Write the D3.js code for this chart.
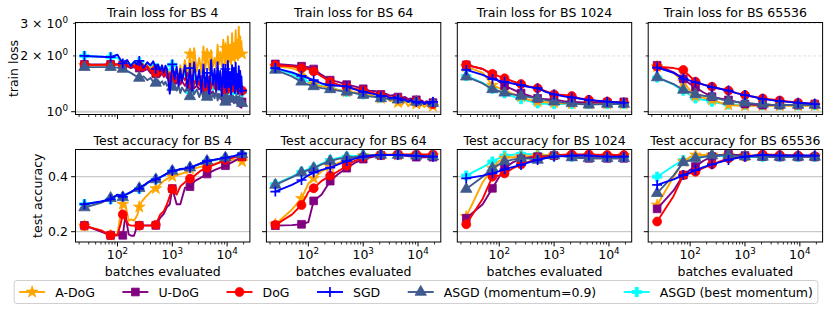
<!DOCTYPE html>
<html><head><meta charset="utf-8">
<script src="https://cdn.jsdelivr.net/npm/d3@7"></script>
<style>body{margin:0;background:#fff} text{font-family:"DejaVu Sans",sans-serif;fill:#000}</style>
</head><body><svg id="c" width="830" height="310"></svg>
<script>
// ---------------- DATA ----------------
const batchSizes = ["4", "64", "1024", "65536"];
const methods = ["A-DoG", "U-DoG", "DoG", "SGD", "ASGD (momentum=0.9)", "ASGD (best momentum)"];
const markerX = [25, 75, 125, 250, 500, 1000, 2100, 4300, 9300, 18700];
const xTicksMajor = [100, 1000, 10000];
const yTicksLoss = [1, 2, 3];
const yTickLossLabels = [["10", "0"], ["2 × 10", "0"], ["3 × 10", "0"]];
const yTicksAcc = [0.2, 0.4];
const yTickAccLabels = ["0.2", "0.4"];

const xTrain4 = [25, 50, 75, 100, 125, 150, 175, 200, 225, 250,
  300, 350, 400, 450, 500, 550, 600, 650, 700, 750,
  800, 900, 1000, 1100, 1200, 1300, 1400, 1500, 1700, 1900,
  2100, 2300, 2500, 2800, 3100, 3400, 3700, 4000, 4300, 4700,
  5100, 5500, 5900, 6300, 6700, 7100, 7500, 8000, 8500, 9000,
  9300, 9800, 10300, 10800, 11300, 11800, 12300, 12800, 13300, 13800,
  14300, 14800, 15300, 15800, 16300, 16800, 17300, 17800, 18200, 18700];
// rows: A-DoG, U-DoG, DoG, SGD, ASGD(0.9), ASGD(best)
const trainLossBS4 = [
  [1.78,1.78,1.78,1.80,1.76,1.78,1.74,1.80,1.75,1.76, 1.70,1.78,1.70,1.76,1.66,1.74,1.64,1.72,1.60,1.70,
   1.62,1.50,1.62,1.50,1.70,1.48,1.78,1.55,1.90,1.55, 2.05,1.60,2.20,1.65,1.95,1.62,2.25,1.70,2.05,1.68,
   2.15,1.75,1.95,1.72,2.30,1.80,2.10,1.75,2.45,1.80, 2.20,1.78,2.55,1.85,2.30,1.80,2.65,1.90,2.35,1.85,
   2.75,1.95,2.45,1.90,2.88,2.05,2.55,2.00,2.40,2.05],
  [1.80,1.80,1.80,1.80,1.79,1.76,1.72,1.74,1.70,1.72, 1.66,1.70,1.62,1.68,1.60,1.64,1.56,1.62,1.54,1.60,
   1.52,1.56,1.48,1.55,1.42,1.50,1.40,1.46,1.38,1.44, 1.36,1.42,1.34,1.38,1.32,1.36,1.30,1.34,1.28,1.30,
   1.26,1.28,1.24,1.26,1.22,1.24,1.20,1.22,1.18,1.20, 1.16,1.22,1.15,1.18,1.14,1.20,1.13,1.16,1.12,1.18,
   1.12,1.15,1.10,1.16,1.08,1.14,1.06,1.10,1.05,1.13],
  [1.79,1.79,1.79,1.80,1.78,1.80,1.74,1.78,1.72,1.76, 1.68,1.76,1.66,1.74,1.62,1.72,1.60,1.70,1.56,1.68,
   1.55,1.62,1.50,1.64,1.46,1.60,1.42,1.58,1.48,1.62, 1.42,1.58,1.40,1.55,1.38,1.56,1.36,1.52,1.35,1.55,
   1.34,1.50,1.33,1.52,1.32,1.48,1.31,1.50,1.30,1.46, 1.30,1.48,1.29,1.45,1.30,1.46,1.28,1.44,1.29,1.42,
   1.28,1.44,1.29,1.40,1.28,1.42,1.27,1.38,1.28,1.30],
  [2.00,1.98,1.97,2.03,1.82,1.90,1.76,1.86,1.80,1.88, 1.72,1.85,1.78,1.87,1.70,1.80,1.66,1.78,1.62,1.77,
   1.70,1.25,1.80,1.50,1.75,1.38,1.70,1.45,1.78,1.35, 1.72,1.30,1.85,1.40,1.68,1.28,1.80,1.35,1.62,1.25,
   1.90,1.40,1.70,1.30,1.85,1.32,1.66,1.22,1.80,1.35, 1.70,1.28,1.88,1.36,1.64,1.24,1.78,1.40,1.72,1.26,
   1.84,1.33,1.60,1.25,1.76,1.36,1.66,1.28,1.55,1.30],
  [1.74,1.74,1.74,1.73,1.70,1.66,1.62,1.58,1.55,1.52, 1.55,1.48,1.52,1.45,1.43,1.48,1.42,1.46,1.40,1.45,
   1.38,1.42,1.36,1.40,1.30,1.38,1.26,1.35,1.28,1.36, 1.21,1.34,1.24,1.32,1.20,1.30,1.18,1.28,1.20,1.30,
   1.16,1.26,1.18,1.30,1.15,1.25,1.17,1.28,1.14,1.24, 1.13,1.26,1.15,1.22,1.12,1.25,1.14,1.22,1.11,1.20,
   1.13,1.24,1.10,1.20,1.12,1.22,1.10,1.18,1.12,1.11],
  [2.00,1.98,1.97,1.95,1.80,1.85,1.80,1.84,1.82,1.85, 1.76,1.82,1.74,1.80,1.72,1.78,1.68,1.76,1.66,1.74,
   1.64,1.70,1.79,1.62,1.70,1.55,1.66,1.50,1.62,1.45, 1.28,1.42,1.58,1.38,1.55,1.36,1.52,1.34,1.45,1.32,
   1.50,1.30,1.48,1.28,1.46,1.30,1.44,1.27,1.45,1.26, 1.42,1.26,1.44,1.25,1.40,1.26,1.42,1.24,1.40,1.25,
   1.38,1.24,1.40,1.25,1.36,1.24,1.38,1.26,1.34,1.28]
];

const xTrain64 = [25, 50, 75, 100, 125, 175, 250, 350, 500, 700, 1000, 1300, 1700, 2100, 2600, 3100,
  3700, 4300, 5000, 5800, 6600, 7500, 8400, 9300, 10500, 11700, 13000, 14500, 16000, 17300, 18700];
const trainLossBS64 = [
  [1.76,1.72,1.65,1.52,1.40,1.37,1.35,1.31,1.28,1.27, 1.25,1.24,1.20,1.18,1.20,1.14,1.16,1.12,1.08,1.14, 1.07,1.12,1.06,1.10,1.05,1.10,1.06,1.09,1.05,1.08, 1.07],
  [1.81,1.78,1.76,1.74,1.70,1.58,1.48,1.45,1.40,1.37, 1.33,1.30,1.29,1.24,1.25,1.22,1.23,1.20,1.19,1.20, 1.17,1.18,1.15,1.16,1.14,1.15,1.12,1.14,1.11,1.13, 1.12],
  [1.78,1.76,1.72,1.70,1.65,1.55,1.45,1.40,1.36,1.33, 1.30,1.28,1.25,1.22,1.23,1.19,1.20,1.18,1.16,1.18, 1.14,1.16,1.13,1.14,1.11,1.13,1.10,1.12,1.09,1.11, 1.10],
  [1.72,1.63,1.56,1.52,1.48,1.42,1.39,1.38,1.37,1.32, 1.28,1.26,1.24,1.21,1.22,1.18,1.20,1.18,1.15,1.17, 1.13,1.16,1.12,1.13,1.11,1.14,1.10,1.13,1.10,1.12, 1.13],
  [1.68,1.55,1.45,1.40,1.37,1.34,1.32,1.30,1.28,1.26, 1.23,1.21,1.20,1.18,1.18,1.16,1.17,1.16,1.14,1.15, 1.13,1.14,1.12,1.13,1.11,1.12,1.10,1.11,1.10,1.11, 1.11],
  [1.72,1.60,1.51,1.45,1.41,1.38,1.35,1.31,1.28,1.26, 1.24,1.22,1.21,1.19,1.18,1.17,1.17,1.15,1.14,1.14, 1.13,1.13,1.12,1.13,1.11,1.12,1.10,1.11,1.10,1.10, 1.11]
];

const xMid = [25, 50, 75, 100, 125, 175, 250, 350, 500, 700, 1000, 1500, 2100, 3000, 4300, 6000, 9300, 13000, 18700];
const trainLossBS1024 = [
  [1.75,1.62,1.39,1.34,1.31,1.25,1.205,1.16,1.133,1.125,1.118,1.11,1.105,1.10,1.10,1.10,1.10,1.10,1.10],
  [1.79,1.70,1.58,1.45,1.38,1.32,1.26,1.22,1.18,1.17,1.16,1.14,1.13,1.125,1.12,1.12,1.12,1.125,1.13],
  [1.79,1.70,1.60,1.55,1.515,1.46,1.41,1.37,1.34,1.29,1.24,1.23,1.215,1.18,1.16,1.145,1.135,1.125,1.12],
  [1.68,1.58,1.50,1.47,1.45,1.42,1.39,1.36,1.34,1.28,1.24,1.21,1.195,1.175,1.157,1.145,1.133,1.125,1.118],
  [1.545,1.42,1.32,1.29,1.265,1.24,1.216,1.20,1.18,1.155,1.133,1.12,1.11,1.10,1.09,1.095,1.10,1.10,1.10],
  [1.56,1.43,1.33,1.29,1.257,1.21,1.17,1.14,1.11,1.105,1.10,1.10,1.10,1.10,1.10,1.10,1.10,1.10,1.10]
];
const trainLossBS65536 = [
  [1.75,1.62,1.45,1.30,1.21,1.19,1.157,1.12,1.087,1.08,1.075,1.075,1.075,1.075,1.075,1.075,1.075,1.075,1.075],
  [1.78,1.63,1.505,1.41,1.355,1.27,1.205,1.18,1.157,1.13,1.10,1.09,1.087,1.087,1.087,1.087,1.087,1.09,1.10],
  [1.75,1.72,1.68,1.55,1.453,1.40,1.365,1.33,1.30,1.26,1.23,1.20,1.18,1.165,1.15,1.135,1.118,1.11,1.10],
  [1.73,1.62,1.51,1.47,1.44,1.40,1.355,1.33,1.30,1.26,1.23,1.20,1.17,1.155,1.14,1.13,1.118,1.11,1.10],
  [1.53,1.41,1.31,1.27,1.24,1.22,1.205,1.17,1.142,1.13,1.118,1.105,1.10,1.09,1.087,1.087,1.087,1.087,1.087],
  [1.53,1.40,1.30,1.23,1.18,1.16,1.133,1.11,1.095,1.09,1.087,1.085,1.083,1.083,1.083,1.083,1.083,1.083,1.083]
];

const xAcc4 = [25, 50, 75, 100, 115, 125, 140, 160, 180, 200, 230, 250, 280, 320, 360, 400, 450, 500, 600, 700,
  800, 900, 1000, 1200, 1400, 1700, 2100, 2600, 3200, 4300, 6000, 9300, 13000, 18700];
const testAccBS4 = [
  [0.221,0.205,0.187,0.190,0.270,0.300,0.296,0.240,0.245,0.240, 0.260,0.290,0.310,0.325,0.335,0.345,0.352,0.357,0.372,0.385,
   0.392,0.398,0.401,0.404,0.410,0.415,0.428,0.430,0.436,0.440, 0.447,0.455,0.462,0.455],
  [0.223,0.200,0.187,0.187,0.187,0.187,0.260,0.190,0.185,0.185, 0.223,0.223,0.223,0.223,0.223,0.223,0.223,0.223,0.250,0.265,
   0.290,0.300,0.357,0.300,0.300,0.360,0.364,0.385,0.395,0.410, 0.425,0.440,0.455,0.473],
  [0.221,0.205,0.187,0.187,0.230,0.263,0.245,0.225,0.222,0.222, 0.222,0.222,0.222,0.222,0.222,0.222,0.222,0.225,0.262,0.275,
   0.300,0.330,0.355,0.335,0.365,0.380,0.393,0.405,0.420,0.433, 0.445,0.462,0.470,0.473],
  [0.300,0.310,0.318,0.335,0.332,0.327,0.335,0.340,0.345,0.352, 0.356,0.357,0.365,0.372,0.380,0.385,0.388,0.390,0.398,0.405,
   0.412,0.418,0.421,0.424,0.428,0.430,0.433,0.440,0.448,0.457, 0.462,0.469,0.475,0.484],
  [0.288,0.305,0.322,0.330,0.328,0.325,0.333,0.340,0.345,0.350, 0.355,0.358,0.362,0.370,0.378,0.383,0.387,0.390,0.398,0.405,
   0.410,0.416,0.421,0.423,0.426,0.428,0.433,0.440,0.447,0.457, 0.462,0.469,0.474,0.481],
  [0.300,0.309,0.318,0.333,0.331,0.325,0.334,0.339,0.344,0.351, 0.355,0.356,0.364,0.371,0.379,0.384,0.387,0.389,0.397,0.404,
   0.411,0.417,0.420,0.423,0.427,0.429,0.432,0.439,0.447,0.456, 0.461,0.468,0.474,0.483]
];
const testAccBS64 = [
  [0.227,0.280,0.321,0.375,0.394,0.420,0.437,0.450,0.461,0.470,0.476,0.478,0.479,0.479,0.479,0.479,0.479,0.478,0.476],
  [0.222,0.224,0.227,0.235,0.312,0.335,0.384,0.410,0.431,0.450,0.464,0.472,0.478,0.479,0.479,0.476,0.471,0.471,0.471],
  [0.225,0.262,0.297,0.345,0.358,0.385,0.404,0.420,0.440,0.458,0.470,0.476,0.479,0.480,0.481,0.481,0.481,0.481,0.481],
  [0.346,0.370,0.388,0.405,0.415,0.425,0.433,0.445,0.457,0.466,0.473,0.477,0.479,0.479,0.479,0.478,0.476,0.475,0.473],
  [0.370,0.398,0.415,0.425,0.431,0.445,0.457,0.465,0.470,0.472,0.476,0.478,0.479,0.479,0.479,0.478,0.476,0.475,0.473],
  [0.373,0.400,0.418,0.428,0.433,0.448,0.461,0.468,0.473,0.476,0.479,0.479,0.479,0.479,0.479,0.478,0.477,0.476,0.476]
];
const testAccBS1024 = [
  [0.255,0.380,0.431,0.458,0.467,0.471,0.473,0.475,0.477,0.478,0.479,0.479,0.479,0.478,0.477,0.477,0.477,0.477,0.477],
  [0.249,0.300,0.358,0.400,0.431,0.452,0.464,0.470,0.473,0.475,0.477,0.475,0.473,0.470,0.467,0.467,0.467,0.467,0.467],
  [0.227,0.320,0.400,0.405,0.412,0.430,0.445,0.455,0.467,0.472,0.477,0.480,0.481,0.481,0.481,0.480,0.479,0.479,0.479],
  [0.394,0.404,0.412,0.420,0.427,0.435,0.443,0.452,0.461,0.468,0.473,0.475,0.477,0.477,0.477,0.475,0.473,0.473,0.473],
  [0.355,0.400,0.431,0.445,0.455,0.462,0.467,0.466,0.461,0.468,0.477,0.474,0.470,0.468,0.467,0.467,0.467,0.467,0.467],
  [0.404,0.435,0.455,0.468,0.477,0.480,0.483,0.482,0.481,0.479,0.477,0.475,0.473,0.473,0.473,0.473,0.473,0.473,0.473]
];
const testAccBS65536 = [
  [0.297,0.400,0.455,0.472,0.479,0.479,0.479,0.479,0.479,0.478,0.477,0.476,0.477,0.476,0.475,0.475,0.475,0.475,0.475],
  [0.283,0.350,0.406,0.425,0.437,0.458,0.473,0.478,0.481,0.479,0.477,0.475,0.473,0.472,0.472,0.472,0.472,0.472,0.472],
  [0.237,0.330,0.406,0.412,0.418,0.432,0.445,0.456,0.467,0.470,0.473,0.477,0.481,0.480,0.479,0.478,0.477,0.476,0.475],
  [0.370,0.390,0.406,0.416,0.424,0.435,0.445,0.453,0.461,0.468,0.473,0.477,0.479,0.478,0.477,0.477,0.477,0.477,0.477],
  [0.340,0.405,0.452,0.460,0.467,0.472,0.477,0.478,0.479,0.476,0.473,0.472,0.472,0.472,0.472,0.472,0.472,0.472,0.472],
  [0.400,0.440,0.461,0.465,0.467,0.472,0.477,0.475,0.473,0.473,0.473,0.472,0.472,0.472,0.472,0.472,0.472,0.472,0.472]
];

// ---------------- STYLE / LAYOUT ----------------
const colors = ["#ffa500", "#800080", "#ff0000", "#0000ff", "#3f5a8e", "#00ffff"];
const markers = ["star", "square", "circle", "plus", "triangle", "pfill"];
const drawOrder = [5, 0, 1, 2, 4, 3];
const FS = 12.5;
const panelLeft = [75.5, 266.4, 457.3, 648.2], panelW = 174.4;
const rowTB = [[22.5, 114.5], [149.5, 242]];
const xDom = [Math.pow(10, 1.235), Math.pow(10, 4.415)];

const panels = [
  {row:0, col:0, xs:xTrain4, ys:trainLossBS4},
  {row:0, col:1, xs:xTrain64, ys:trainLossBS64},
  {row:0, col:2, xs:xMid, ys:trainLossBS1024},
  {row:0, col:3, xs:xMid, ys:trainLossBS65536},
  {row:1, col:0, xs:xAcc4, ys:testAccBS4},
  {row:1, col:1, xs:xMid, ys:testAccBS64},
  {row:1, col:2, xs:xMid, ys:testAccBS1024},
  {row:1, col:3, xs:xMid, ys:testAccBS65536}
];

const svg = d3.select("#c");
svg.append("rect").attr("width", 830).attr("height", 310).attr("fill", "#fff");
const defs = svg.append("defs");

function symbolPath(type) {
  const m = {star:[d3.symbolStar, 42], square:[d3.symbolSquare, 60], circle:[d3.symbolCircle, 62],
             triangle:[d3.symbolTriangle, 56], pfill:[d3.symbolCross, 48]}[type];
  return d3.symbol().type(m[0]).size(m[1])();
}
function drawMarker(g, type, cx, cy, color) {
  if (type === "plus") {
    g.append("path").attr("d", `M${cx-5},${cy}H${cx+5}M${cx},${cy-5}V${cy+5}`)
      .attr("stroke", color).attr("stroke-width", 1.7).attr("fill", "none");
  } else {
    g.append("path").attr("d", symbolPath(type)).attr("transform", `translate(${cx},${cy})`)
      .attr("fill", color).attr("stroke", color).attr("stroke-width", 0.8);
  }
}

function minorTicks() {
  const t = [];
  for (let k = 1; k <= 4; k++) for (let m = 2; m <= 9; m++) {
    const v = m * Math.pow(10, k);
    if (v >= xDom[0] && v <= xDom[1]) t.push(v);
  }
  return t;
}

panels.forEach((p, pi) => {
  const x0 = panelLeft[p.col], x1 = x0 + panelW;
  const [yT, yB] = rowTB[p.row];
  const x = d3.scaleLog().domain(xDom).range([x0, x1]);
  const y = p.row === 0 ? d3.scaleLog().domain([0.966, 3.03]).range([yB, yT])
                        : d3.scaleLinear().domain([0.1625, 0.499]).range([yB, yT]);
  const g = svg.append("g");

  // grid
  if (p.row === 0) {
    [2, 3].forEach(v => g.append("line").attr("x1", x0).attr("x2", x1).attr("y1", y(v)).attr("y2", y(v))
      .attr("stroke", "#d8d8d8").attr("stroke-width", 0.8).attr("stroke-dasharray", "3,2"));
    g.append("line").attr("x1", x0).attr("x2", x1).attr("y1", y(1)).attr("y2", y(1))
      .attr("stroke", "#cfcfcf").attr("stroke-width", 2);
  } else {
    yTicksAcc.forEach(v => g.append("line").attr("x1", x0).attr("x2", x1).attr("y1", y(v)).attr("y2", y(v))
      .attr("stroke", "#bdbdbd").attr("stroke-width", 1));
  }

  // clip
  const cid = "clip" + pi;
  defs.append("clipPath").attr("id", cid).append("rect").attr("x", x0).attr("y", yT).attr("width", panelW).attr("height", yB - yT);
  const plot = g.append("g").attr("clip-path", `url(#${cid})`);
  const line = d3.line().x(d => x(d[0])).y(d => y(d[1]));
  drawOrder.forEach(si => {
    const pts = p.xs.map((xv, i) => [xv, p.ys[si][i]]);
    plot.append("path").attr("d", line(pts)).attr("fill", "none").attr("stroke", colors[si])
      .attr("stroke-width", 1.9).attr("stroke-linejoin", "round").attr("stroke-linecap", "round");
    const mg = plot.append("g");
    pts.filter(d => markerX.includes(d[0])).forEach(d => drawMarker(mg, markers[si], x(d[0]), y(d[1]), colors[si]));
  });

  // spines
  g.append("rect").attr("x", x0).attr("y", yT).attr("width", panelW).attr("height", yB - yT)
    .attr("fill", "none").attr("stroke", "#000").attr("stroke-width", 1);

  // x ticks
  xTicksMajor.forEach(v => g.append("line").attr("x1", x(v)).attr("x2", x(v)).attr("y1", yB).attr("y2", yB + 4.4)
    .attr("stroke", "#000").attr("stroke-width", 1));
  minorTicks().forEach(v => g.append("line").attr("x1", x(v)).attr("x2", x(v)).attr("y1", yB).attr("y2", yB + 2.5)
    .attr("stroke", "#000").attr("stroke-width", 0.8));
  if (p.row === 1) {
    xTicksMajor.forEach(v => {
      const t = g.append("text").attr("x", x(v)).attr("y", yB + 16.5).attr("text-anchor", "middle").attr("font-size", FS);
      t.append("tspan").text("10");
      t.append("tspan").attr("dy", -5).attr("font-size", FS * 0.7).text(String(Math.round(Math.log10(v))));
    });
    g.append("text").attr("x", (x0 + x1) / 2).attr("y", 276).attr("text-anchor", "middle").attr("font-size", FS)
      .text("batches evaluated");
  }

  // y ticks
  if (p.row === 0) {
    yTicksLoss.forEach((v, i) => {
      const len = v === 1 ? 4.4 : 2.5;
      g.append("line").attr("x1", x0 - len).attr("x2", x0).attr("y1", y(v)).attr("y2", y(v))
        .attr("stroke", "#000").attr("stroke-width", v === 1 ? 1 : 0.8);
      if (p.col === 0) {
        const t = g.append("text").attr("x", x0 - 7.5).attr("y", y(v) + 4.5).attr("text-anchor", "end").attr("font-size", FS);
        t.append("tspan").text(yTickLossLabels[i][0]);
        t.append("tspan").attr("dy", -5).attr("font-size", FS * 0.7).text(yTickLossLabels[i][1]);
      }
    });
  } else {
    yTicksAcc.forEach((v, i) => {
      g.append("line").attr("x1", x0 - 4.4).attr("x2", x0).attr("y1", y(v)).attr("y2", y(v))
        .attr("stroke", "#000").attr("stroke-width", 1);
      if (p.col === 0) g.append("text").attr("x", x0 - 7.5).attr("y", y(v) + 4.5).attr("text-anchor", "end")
        .attr("font-size", FS).text(yTickAccLabels[i]);
    });
  }

  // title
  g.append("text").attr("x", (x0 + x1) / 2).attr("y", p.row === 0 ? 17 : 144.5).attr("text-anchor", "middle")
    .attr("font-size", FS).text((p.row === 0 ? "Train loss for BS " : "Test accuracy for BS ") + batchSizes[p.col]);
});

// y labels
svg.append("text").attr("transform", `translate(17.5,${(rowTB[0][0] + rowTB[0][1]) / 2}) rotate(-90)`)
  .attr("text-anchor", "middle").attr("font-size", FS).text("train loss");
svg.append("text").attr("transform", `translate(42,${(rowTB[1][0] + rowTB[1][1]) / 2}) rotate(-90)`)
  .attr("text-anchor", "middle").attr("font-size", FS).text("test accuracy");

// legend
const leg = svg.append("g");
const box = leg.append("rect");
const handleLen = 26, pad = 10, colSp = 27.5;
const items = methods.map((m, i) => {
  const g = leg.append("g");
  const t = g.append("text").attr("font-size", FS).attr("y", 296.5).text(m);
  return {g, t, w: t.node().getComputedTextLength(), i};
});
const total = d3.sum(items, d => handleLen + pad + d.w) + colSp * (items.length - 1);
let cx = 416 - total / 2;
items.forEach(d => {
  const ly = 292;
  d.g.insert("line", "text").attr("x1", cx).attr("x2", cx + handleLen).attr("y1", ly).attr("y2", ly)
    .attr("stroke", colors[d.i]).attr("stroke-width", 1.9);
  drawMarker(d.g, markers[d.i], cx + handleLen / 2, ly, colors[d.i]);
  d.t.attr("x", cx + handleLen + pad);
  cx += handleLen + pad + d.w + colSp;
});
box.attr("x", 416 - total / 2 - 5).attr("y", 280.5).attr("width", total + 10).attr("height", 23)
  .attr("rx", 3).attr("fill", "#fff").attr("stroke", "#d0d0d0").attr("stroke-width", 1);
</script></body></html>
